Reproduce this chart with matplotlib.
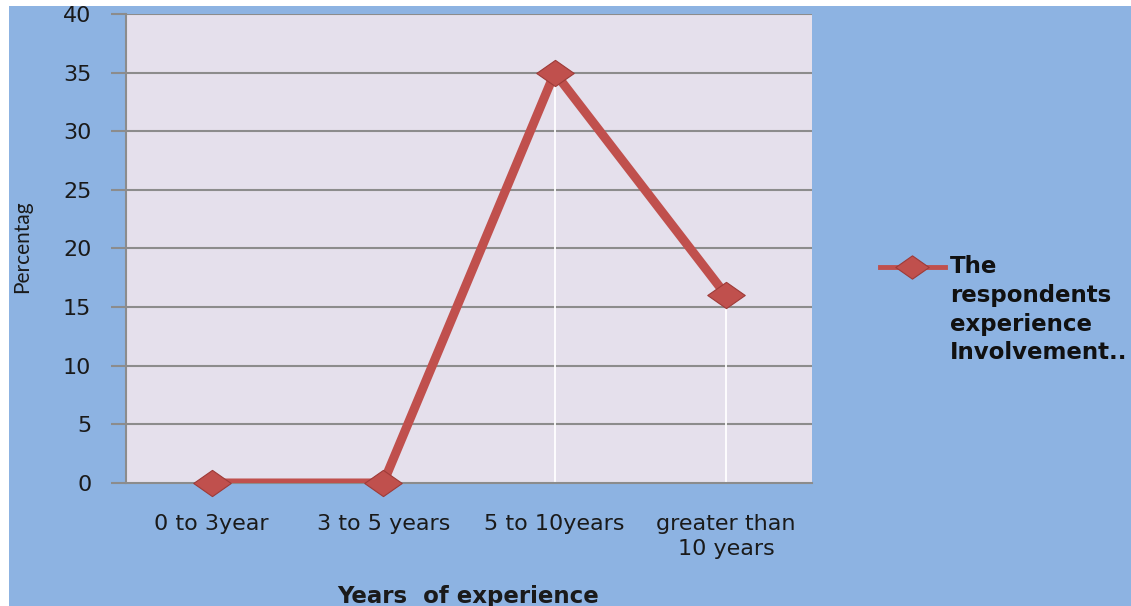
import numpy as np
import matplotlib.pyplot as plt
from matplotlib.path import Path
from matplotlib.lines import Line2D

categories = ['0 to 3year', '3 to 5 years', '5 to 10years', 'greater than\n10 years']
values = [0, 0, 35, 16]
series_name = 'The\nrespondents\nexperience\nInvolvement..'
yticks = [0, 5, 10, 15, 20, 25, 30, 35, 40]

red = '#C0504D'
edge = '#9E3B38'
blue_bg = '#8DB3E2'
plot_bg = '#E5E0EC'
grid_c = '#8C8C8C'

# wide diamond like the spreadsheet marker
diamond = Path([(-1, 0), (0, 0.7), (1, 0), (0, -0.7), (-1, 0)],
               [Path.MOVETO, Path.LINETO, Path.LINETO, Path.LINETO, Path.CLOSEPOLY])

fig = plt.figure(figsize=(11.31, 6.06), dpi=100)
fig.patch.set_facecolor('white')
fig.patches.append(plt.Rectangle((9 / 1131, 0), 1, 1 - 6 / 606, transform=fig.transFigure,
                                 facecolor=blue_bg, edgecolor='none', zorder=-10))

ax = fig.add_axes([126 / 1131, 1 - 483 / 606, 686 / 1131, 469 / 606])
ax.set_facecolor(plot_bg)

x = np.arange(len(categories))
ax.set_xlim(-0.5, len(categories) - 0.5)
ax.set_ylim(0, 40)

for yv in yticks[1:]:
    ax.axhline(yv, color=grid_c, lw=1.5, zorder=1)

# white drop lines
ax.vlines(x, 0, values, color='white', lw=1.3, zorder=2)

ax.plot(x, values, color=red, lw=6.5, zorder=3, solid_capstyle='round')
ax.plot(x, values, ls='none', marker=diamond, markersize=27, markerfacecolor=red,
        markeredgecolor=edge, markeredgewidth=0.8, zorder=4, clip_on=False)

for s in ['top', 'right']:
    ax.spines[s].set_visible(False)
ax.spines['left'].set_color(grid_c)
ax.spines['left'].set_linewidth(1.5)
ax.spines['bottom'].set_color(grid_c)
ax.spines['bottom'].set_linewidth(1.5)

ax.set_yticks(yticks)
ax.set_yticklabels([str(v) for v in yticks], fontsize=16, color='#1a1a1a',
                   family='DejaVu Sans')
ax.tick_params(axis='y', length=11, width=1.5, color=grid_c, pad=14)
ax.set_xticks(x)
ax.set_xticklabels(categories, fontsize=16, family='DejaVu Sans', color='#1a1a1a',
                   linespacing=1.35)
ax.tick_params(axis='x', length=0, pad=22)

fig.text(468 / 1131, 1 - 596 / 606, 'Years  of experience', ha='center', va='center',
         fontsize=16.5, fontweight='bold', family='DejaVu Sans', color='#1a1a1a')
fig.text(22 / 1131, 1 - 247 / 606, 'Percentag', rotation=90, ha='center', va='center',
         fontsize=15, family='Lato', color='#1a1a1a')

# legend
key = Line2D([880 / 1131, 945 / 1131], [1 - 267 / 606, 1 - 267 / 606],
             transform=fig.transFigure, color=red, lw=3.5)
fig.lines.append(key)
keym = Line2D([912 / 1131], [1 - 267 / 606], transform=fig.transFigure, ls='none',
              marker=diamond, markersize=24, markerfacecolor=red,
              markeredgecolor=edge, markeredgewidth=0.8)
fig.lines.append(keym)
fig.text(950 / 1131, 1 - 255 / 606, series_name, ha='left', va='top',
         fontsize=16.5, fontweight='bold', family='DejaVu Sans', color='#111111',
         linespacing=1.32)

fig.savefig('out.png', dpi=100, facecolor=fig.get_facecolor())
